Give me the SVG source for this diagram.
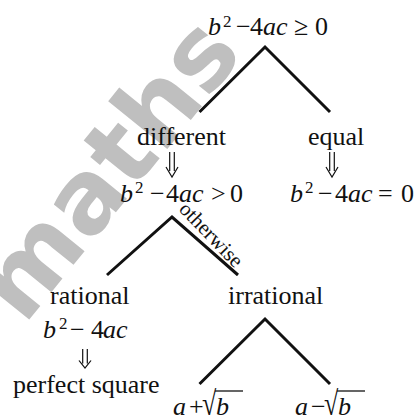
<svg xmlns="http://www.w3.org/2000/svg" width="420" height="419" viewBox="0 0 420 419">
<style>
.t{font-family:"Liberation Serif","Times New Roman","DejaVu Serif",serif;font-size:26px;fill:#111}
.i{font-style:italic}
.sup{font-size:17px}
.ln{stroke:#111;stroke-width:3;fill:none}
.bar{stroke:#111;stroke-width:1.3;fill:none}
.arw{stroke:#111;stroke-width:1.2;fill:none}
.wm{font-family:"DejaVu Sans",sans-serif;font-weight:bold;font-size:100px;fill:#b4b4b4;opacity:0.85}
.ow{font-family:"Liberation Serif","Times New Roman","DejaVu Serif",serif;font-size:21px;fill:#111}
</style>
<defs>
<path id="dar" class="arw" d="M-2.3,0 V19 M2.3,0 V19 M-6,15 L0,25 L6,15"/>
</defs>
<rect width="420" height="419" fill="#fff"/>
<text class="wm" transform="translate(24,326) rotate(-51)">maths</text>
<g id="connectors">
<polyline class="ln" points="199.5,112 265,47 330,112"/>
<polyline class="ln" points="107,275 172,217 238,275"/>
<polyline class="ln" points="199.5,384 265,319 330,384"/>
</g>
<g id="root">
<text class="t" y="35"><tspan class="i" x="208">b</tspan><tspan class="sup" x="223" y="27">2</tspan><tspan x="236" y="35">−</tspan><tspan x="250">4</tspan><tspan class="i" x="263">ac</tspan><tspan x="294">≥</tspan><tspan x="315">0</tspan></text>
</g>
<g id="different">
<text class="t" x="137" y="145">different</text>
<use href="#dar" transform="translate(172,152)"/>
<text class="t" y="202"><tspan class="i" x="120">b</tspan><tspan class="sup" x="135" y="193">2</tspan><tspan x="150" y="202">−</tspan><tspan x="166">4</tspan><tspan class="i" x="179">ac</tspan><tspan x="211">&gt;</tspan><tspan x="230">0</tspan></text>
</g>
<g id="equal">
<text class="t" x="308" y="145">equal</text>
<use href="#dar" transform="translate(332,152)"/>
<text class="t" y="202"><tspan class="i" x="290">b</tspan><tspan class="sup" x="305" y="193">2</tspan><tspan x="318" y="202">−</tspan><tspan x="335">4</tspan><tspan class="i" x="348">ac</tspan><tspan x="378">=</tspan><tspan x="401">0</tspan></text>
</g>
<g id="otherwise-label">
<text class="ow" transform="translate(178,210) rotate(46)">otherwise</text>
</g>
<g id="rational">
<text class="t" x="50" y="304">rational</text>
<text class="t" y="338"><tspan class="i" x="43">b</tspan><tspan class="sup" x="59" y="329">2</tspan><tspan x="70" y="338">−</tspan><tspan x="91">4</tspan><tspan class="i" x="103">ac</tspan></text>
<use href="#dar" transform="translate(85,349) scale(1,0.76)"/>
<text class="t" x="13" y="393">perfect square</text>
</g>
<g id="irrational">
<text class="t" x="228" y="304">irrational</text>
</g>
<g id="plus-root">
<text class="t" y="415"><tspan class="i" x="173">a</tspan><tspan x="189">+</tspan><tspan class="i" x="216">b</tspan></text>
<text class="t" transform="translate(202,415) scale(1,1.3)">√</text>
<line class="bar" x1="215" y1="391" x2="243" y2="391"/>
</g>
<g id="minus-root">
<text class="t" y="415"><tspan class="i" x="295">a</tspan><tspan x="311">−</tspan><tspan class="i" x="338">b</tspan></text>
<text class="t" transform="translate(324,415) scale(1,1.3)">√</text>
<line class="bar" x1="337" y1="391" x2="365" y2="391"/>
</g>
</svg>
